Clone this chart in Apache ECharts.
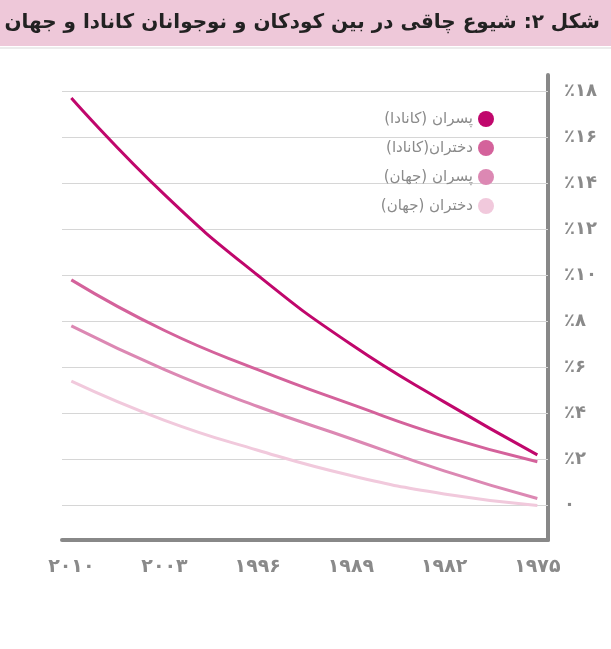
<!DOCTYPE html>
<html><head><meta charset="utf-8">
<script src="https://cdn.jsdelivr.net/npm/echarts@6/dist/echarts.min.js"></script>
<style>html,body{margin:0;background:#fff}#main{width:611px;height:649px}</style>
</head><body><div id="main"></div>
<script>
var years = [2010, 2003, 1996, 1989, 1982, 1975];
var boysCanada = [17.7, 13.5, 10.0, 7.0, 4.5, 2.2];
var girlsCanada = [9.8, 7.6, 5.9, 4.4, 3.0, 1.9];
var boysWorld = [7.8, 5.9, 4.3, 2.9, 1.5, 0.3];
var girlsWorld = [5.4, 3.7, 2.4, 1.3, 0.5, 0.0];
var names = ['پسران (کانادا)', 'دختران(کانادا)', 'پسران (جهان)', 'دختران (جهان)'];
var colors = ['#c0076c', '#d4629b', '#dc88b3', '#f1c9dc'];
var yTicks = [0, 2, 4, 6, 8, 10, 12, 14, 16, 18];

function fa(n) {
    return String(n).replace(/[0-9]/g, function(d) { return '۰۱۲۳۴۵۶۷۸۹'[d]; });
}
function pairs(vals) {
    return years.map(function(y, i) { return [y, vals[i]]; });
}

var myChart = echarts.init(document.getElementById('main'));
var font = 'DejaVu Sans';

var series = [boysCanada, girlsCanada, boysWorld, girlsWorld].map(function(vals, i) {
    return {
        name: names[i],
        type: 'line',
        smooth: true,
        showSymbol: false,
        data: pairs(vals),
        lineStyle: { width: 3, color: colors[i] },
        itemStyle: { color: colors[i] },
        z: 10 - i
    };
});
// grid lines
series[0].markLine = {
    silent: true,
    symbol: 'none',
    label: { show: false },
    lineStyle: { color: '#d6d6d6', width: 1, type: 'solid' },
    data: yTicks.map(function(v) { return { yAxis: v }; }),
    z: 1
};

option = {
    backgroundColor: '#fff',
    animation: false,
    graphic: [
        { type: 'rect', shape: { x: 0, y: 0, width: 611, height: 46 }, style: { fill: '#eec8d9' } },
        { type: 'rect', shape: { x: 0, y: 47, width: 611, height: 2 }, style: { fill: '#ececec' } }
    ],
    title: {
        text: 'شکل ۲: شیوع چاقی در بین کودکان و نوجوانان کانادا و جهان',
        right: 6,
        top: 8,
        textStyle: { fontFamily: font, fontSize: 20, fontWeight: 'bold', color: '#222' }
    },
    legend: {
        orient: 'vertical',
        right: 112,
        top: 106,
        align: 'right',
        icon: 'circle',
        itemWidth: 16,
        itemHeight: 16,
        itemGap: 13,
        data: names,
        textStyle: { fontFamily: font, fontSize: 15, color: '#8a8a8a' }
    },
    grid: { left: 62, right: 63, top: 75, bottom: 109 },
    xAxis: {
        type: 'value',
        inverse: true,
        min: 1974.2,
        max: 2010.7,
        axisLine: { onZero: false, lineStyle: { color: '#888', width: 4 } },
        axisTick: { show: false },
        splitLine: { show: false },
        axisLabel: {
            customValues: years,
            margin: 18,
            formatter: function(v) { return fa(v); },
            fontFamily: font, fontSize: 19, fontWeight: 'bold', color: '#8a8a8a'
        }
    },
    yAxis: {
        type: 'value',
        position: 'right',
        min: -1.5,
        max: 18.7,
        axisLine: { show: true, lineStyle: { color: '#888', width: 4 } },
        axisTick: { show: false },
        splitLine: { show: false },
        axisLabel: {
            customValues: yTicks,
            margin: 16,
            formatter: function(v) { return v === 0 ? '۰' : '٪' + fa(v); },
            fontFamily: font, fontSize: 18, fontWeight: 'bold', color: '#8a8a8a'
        }
    },
    series: series
};
myChart.setOption(option);
</script></body></html>
